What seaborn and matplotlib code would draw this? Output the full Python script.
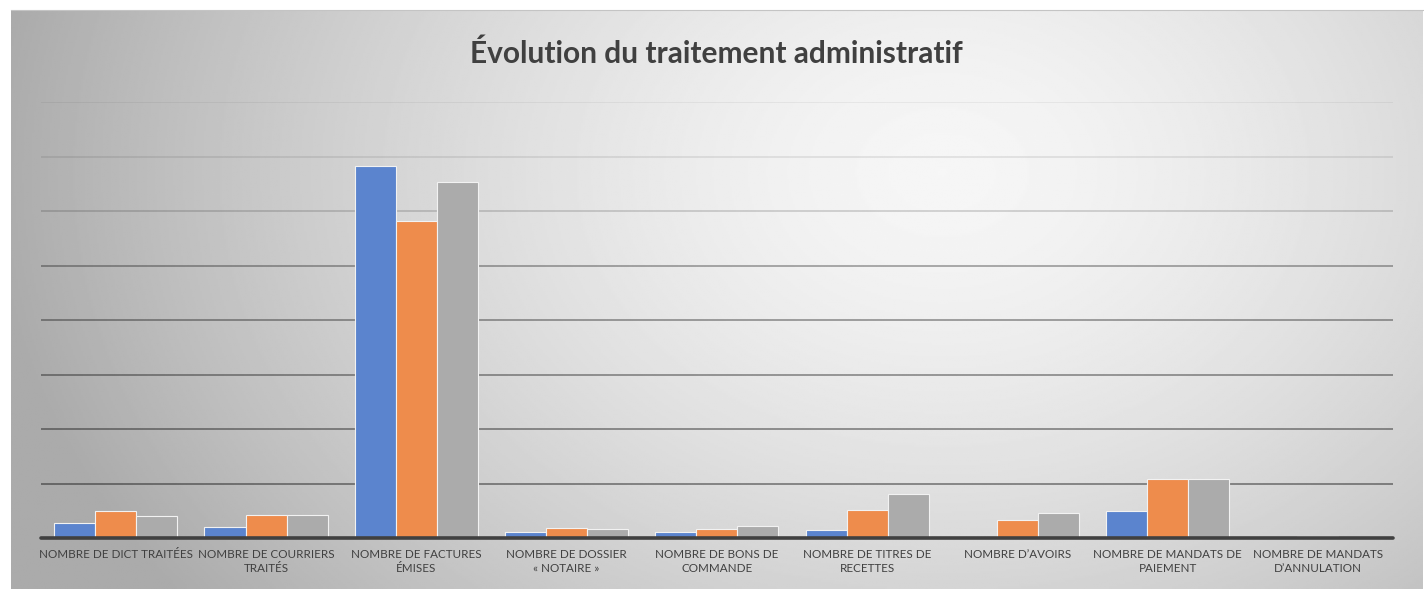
import numpy as np
import pandas as pd
import seaborn as sns
import matplotlib.pyplot as plt

# Données (unités arbitraires, une ligne de grille = 500)
categories = [
    "NOMBRE DE DICT TRAITÉES",
    "NOMBRE DE COURRIERS\nTRAITÉS",
    "NOMBRE DE FACTURES\nÉMISES",
    "NOMBRE DE DOSSIER\n« NOTAIRE »",
    "NOMBRE DE BONS DE\nCOMMANDE",
    "NOMBRE DE TITRES DE\nRECETTES",
    "NOMBRE D’AVOIRS",
    "NOMBRE DE MANDATS DE\nPAIEMENT",
    "NOMBRE DE MANDATS\nD’ANNULATION",
]
series_names = ["Série 1", "Série 2", "Série 3"]
serie_1 = [135, 100, 3410, 55, 55, 70, 3, 245, 0]
serie_2 = [245, 210, 2905, 90, 80, 255, 165, 540, 15]
serie_3 = [200, 210, 3270, 80, 110, 405, 230, 545, 12]
title = "Évolution du traitement administratif"

df = pd.DataFrame({
    "categorie": categories * 3,
    "serie": np.repeat(series_names, len(categories)),
    "valeur": serie_1 + serie_2 + serie_3,
})

sns.set_style("white")
plt.rcParams["font.family"] = ["Lato", "DejaVu Sans"]

fig = plt.figure(figsize=(14.24, 5.89), dpi=100)
fig.patch.set_facecolor("white")

# fond en dégradé façon Excel
bg = fig.add_axes([11 / 1424, 0, 1412 / 1424, 579 / 589], zorder=-2)
yy, xx = np.mgrid[0:1:300j, 0:1:700j]
d = np.sqrt(((xx - 0.66) / 0.52) ** 2 + ((yy - 0.28) / 0.95) ** 2)
img = 0.965 - 0.2 * np.clip(d, 0, 1.3) ** 1.5
bg.imshow(img, cmap="gray", vmin=0, vmax=1, aspect="auto", extent=(0, 1, 1, 0))
bg.set_xticks([])
bg.set_yticks([])
for side in ["left", "right", "bottom"]:
    bg.spines[side].set_visible(False)
bg.spines["top"].set_color("#c4c4c4")

ax = fig.add_axes([40.7 / 1424, 51 / 589, 1352.3 / 1424, 436 / 589])
ax.set_facecolor("none")

sns.barplot(
    data=df, x="categorie", y="valeur", hue="serie",
    palette=["#5B84CE", "#EE8C4C", "#ABABAB"], saturation=1,
    width=0.82, edgecolor="#f2f2f2", linewidth=0.8,
    legend=False, ax=ax, zorder=3,
)

ax.set_ylim(0, 4000)
ax.set_xlim(-0.5, len(categories) - 0.5)
ax.set_yticks(np.arange(500, 4001, 500))
ax.set_yticklabels([])
ax.tick_params(axis="y", length=0)
ax.tick_params(axis="x", length=0, pad=8, labelsize=8.4, labelcolor="#404040")
for lbl in ax.get_xticklabels():
    lbl.set_linespacing(1.35)
ax.set_xlabel("")
ax.set_ylabel("")
sns.despine(ax=ax, left=True, bottom=True)

# lignes de grille plus marquées vers le bas
grid_alpha = [0.40, 0.38, 0.36, 0.34, 0.31, 0.15, 0.08, 0.05]
for v, a in zip(np.arange(500, 4001, 500), grid_alpha):
    ax.axhline(v, color="black", alpha=a, linewidth=1.4, zorder=1)
ax.axhline(0, color="#404040", linewidth=2.6, zorder=4, clip_on=False)

fig.text(0.503, 0.909, title, ha="center", va="center", fontsize=21.5,
         fontweight="bold", color="#404040")

fig.savefig("out.png", dpi=100)
